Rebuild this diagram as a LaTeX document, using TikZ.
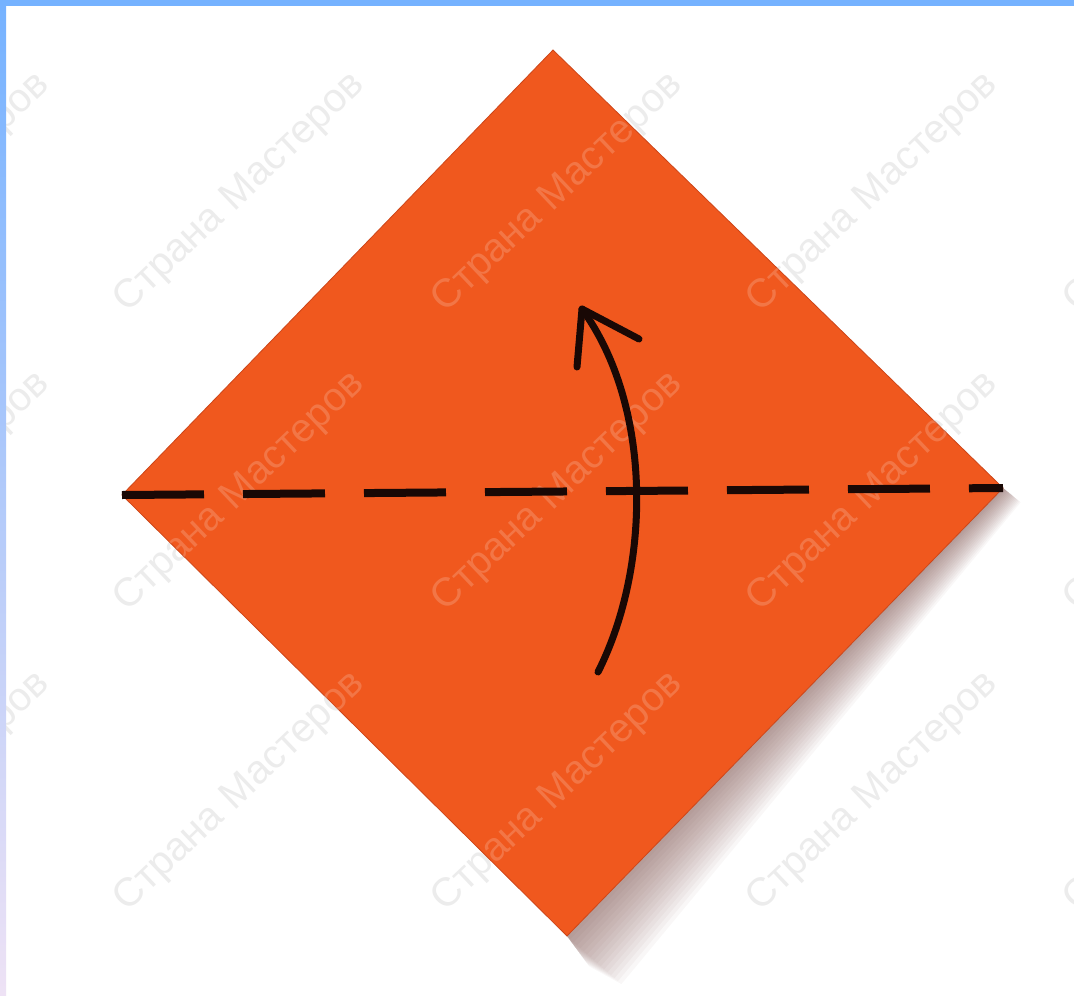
\documentclass[tikz,border=0pt]{standalone}
\usepackage{fontspec}
\newfontfamily\wmfont{Liberation Sans}
\definecolor{paper}{RGB}{240,88,30}
\definecolor{paperedge}{RGB}{205,70,25}
\definecolor{inkc}{RGB}{25,8,5}
\definecolor{wmgray}{RGB}{236,236,236}
\definecolor{shadowc}{RGB}{110,60,55}
\definecolor{framebl}{RGB}{117,178,255}
\definecolor{framemid}{RGB}{160,200,248}
\definecolor{framelav}{RGB}{238,226,245}
\begin{document}
\begin{tikzpicture}[x=1pt,y=-1pt,
  wm/.style={font=\wmfont\fontsize{40}{40}\selectfont, rotate=43.5, inner sep=0pt},
  foldline/.style={line width=8pt, color=inkc, dash pattern=on 82pt off 39pt},
  arrowline/.style={line width=7pt, color=inkc, line cap=round, line join=round}]
\useasboundingbox (0,0) rectangle (1074,996);
\fill[white] (0,0) rectangle (1074,996);
% corners of the square
\coordinate (T) at (553,50);
\coordinate (R) at (1003,488);
\coordinate (B) at (567,936);
\coordinate (L) at (122,495);
% arrow points
\coordinate (A0) at (598,672);
\coordinate (A1) at (652,565);
\coordinate (A2) at (652,405);
\coordinate (Atip) at (582,309);
\coordinate (Abl) at (577,367);
\coordinate (Abr) at (639,339);
% watermarks on white
\begin{scope}
\clip (0,0) rectangle (1074,996);
\foreach \x [count=\i] in {-75,240,558,873,1190}
  \foreach \y [count=\j] in {193,492,792}
    {\node[wm, text=wmgray] (wmg\i\j) at (\x,\y) {Страна Мастеров};}
\end{scope}
% shadow
\foreach \k in {1,...,16}
  {\fill[shadowc, opacity=0.04] (R) -- (B) -- ([shift={(\k*1.4,\k*1.9)}]B)
     -- ([shift={(\k*3.4,\k*3.0)}]B) -- ([shift={(\k*1.1,\k*0.9)}]R) -- cycle;}
% paper
\fill[paper] (T) -- (R) -- (B) -- (L) -- cycle;
\draw[paperedge, line width=0.8pt, line join=miter] (T) -- (R) -- (B) -- (L) -- cycle;
% watermarks on paper
\begin{scope}
\clip (T) -- (R) -- (B) -- (L) -- cycle;
\foreach \x [count=\i] in {-75,240,558,873,1190}
  \foreach \y [count=\j] in {193,492,792}
    {\node[wm, text=white, opacity=0.18] (wmp\i\j) at (\x,\y) {Страна Мастеров};}
\end{scope}
% fold line
\draw[foldline] (L) -- (R);
% arrow
\draw[arrowline] (A0) .. controls (A1) and (A2) .. (Atip);
\draw[arrowline] (Abl) -- (Atip) -- (Abr);
% frame
\fill[framebl] (0,0) rectangle (1074,6);
\shade[top color=framebl, middle color=framemid, bottom color=framelav] (0,0) rectangle (6,996);
\end{tikzpicture}
\end{document}
